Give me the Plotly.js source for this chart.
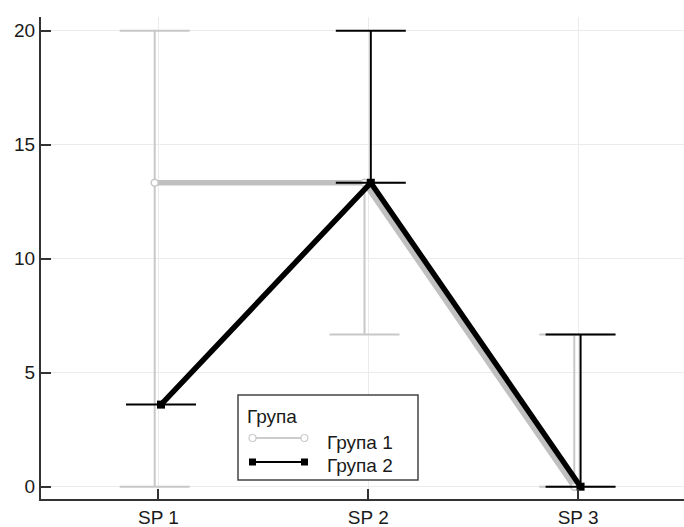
<!DOCTYPE html>
<html><head><meta charset="utf-8">
<script src="https://cdn.plot.ly/plotly-3.0.1.min.js"></script>
<style>html,body{margin:0;padding:0;background:#fff}#chart{width:684px;height:527px}</style>
</head><body><div id="chart"></div>
<script>
// Interaction plot: medians with low/high ranges per sampling point, two groups
const categories = ['SP 1', 'SP 2', 'SP 3'];
const groupNames = ['Група 1', 'Група 2'];
const legendTitle = 'Група';
const group1Values = [13.33, 13.33, 0];
const group1Low = [0, 6.67, 0];
const group1High = [20, 13.33, 6.67];
const group2Values = [3.6, 13.33, 0];
const group2Low = [3.6, 13.33, 0];
const group2High = [3.6, 20, 6.67];
const yTickVals = [0, 5, 10, 15, 20];

// small horizontal dodge so the two groups don't overlap exactly
const DODGE = [-0.018, 0.012];
const xIdx = categories.map((_, i) => i);

function groupTrace(vals, lo, hi, k, style) {
  return {
    type: 'scatter', mode: 'lines+markers', name: groupNames[k], showlegend: false,
    x: xIdx.map(i => i + DODGE[k]), y: vals,
    line: {color: style.line, width: 5.5},
    marker: style.marker,
    error_y: {
      type: 'data', symmetric: false,
      array: vals.map((v, i) => hi[i] - v),
      arrayminus: vals.map((v, i) => v - lo[i]),
      color: style.err, thickness: 2, width: 35
    },
    hoverinfo: 'x+y'
  };
}

const traces = [
  groupTrace(group1Values, group1Low, group1High, 0, {
    line: '#c0c0c0', err: '#c8c8c8',
    marker: {symbol: 'circle', size: 7, color: '#ffffff', line: {color: '#c8c8c8', width: 1.5}}
  }),
  groupTrace(group2Values, group2Low, group2High, 1, {
    line: '#000000', err: '#000000',
    marker: {symbol: 'square', size: 8, color: '#000000'}
  })
];

// plot-area geometry (px) for the hand-drawn legend box
const M = {l: 41, r: 0, t: 17, b: 28};
const W = 684, H = 527;
const pw = W - M.l - M.r, ph = H - M.t - M.b;
const px = x => (x - M.l) / pw;
const py = y => (H - M.b - y) / ph;

const legendShapes = [
  {type: 'rect', xref: 'paper', yref: 'paper', x0: px(238), x1: px(418), y0: py(480), y1: py(395),
   line: {color: '#444', width: 1.5}, fillcolor: '#ffffff', layer: 'above'},
  {type: 'line', xref: 'paper', yref: 'paper', x0: px(253), x1: px(304), y0: py(438), y1: py(438),
   line: {color: '#cccccc', width: 2}, layer: 'above'},
  {type: 'circle', xref: 'paper', yref: 'paper', x0: px(249), x1: px(256), y0: py(441.5), y1: py(434.5),
   line: {color: '#cccccc', width: 1.2}, fillcolor: '#ffffff', layer: 'above'},
  {type: 'circle', xref: 'paper', yref: 'paper', x0: px(301), x1: px(308), y0: py(441.5), y1: py(434.5),
   line: {color: '#cccccc', width: 1.2}, fillcolor: '#ffffff', layer: 'above'},
  {type: 'line', xref: 'paper', yref: 'paper', x0: px(253), x1: px(304), y0: py(462), y1: py(462),
   line: {color: '#000', width: 2}, layer: 'above'},
  {type: 'rect', xref: 'paper', yref: 'paper', x0: px(249), x1: px(256), y0: py(465.5), y1: py(458.5),
   line: {width: 0}, fillcolor: '#000', layer: 'above'},
  {type: 'rect', xref: 'paper', yref: 'paper', x0: px(301), x1: px(308), y0: py(465.5), y1: py(458.5),
   line: {width: 0}, fillcolor: '#000', layer: 'above'}
];

const FONT = 'Liberation Sans, Arial, sans-serif';
const legendFont = {family: FONT, size: 19, color: '#1a1a1a'};
const legendText = [
  {text: legendTitle, x: px(245), y: py(417)},
  {text: groupNames[0], x: px(325), y: py(442)},
  {text: groupNames[1], x: px(325), y: py(465)}
].map(a => Object.assign({xref: 'paper', yref: 'paper', xanchor: 'left', yanchor: 'middle',
  showarrow: false, font: legendFont}, a));

const axisCommon = {
  showline: true, linecolor: '#333', linewidth: 2, mirror: false,
  ticks: 'inside', ticklen: 10, tickwidth: 2, tickcolor: '#333',
  showgrid: true, gridcolor: '#ebebeb', gridwidth: 1, zeroline: false,
  tickfont: {family: FONT, size: 19, color: '#1a1a1a'}
};

const layout = {
  width: W, height: H, margin: M,
  paper_bgcolor: '#ffffff', plot_bgcolor: '#ffffff',
  showlegend: false,
  xaxis: Object.assign({}, axisCommon, {
    range: [-0.56, 2.505], tickvals: xIdx, ticktext: categories
  }),
  yaxis: Object.assign({}, axisCommon, {
    range: [-0.54, 20.6], tickvals: yTickVals, ticktext: yTickVals.map(String)
  }),
  shapes: legendShapes,
  annotations: legendText
};

Plotly.newPlot('chart', traces, layout, {displayModeBar: false, staticPlot: true});
</script>
</body></html>
